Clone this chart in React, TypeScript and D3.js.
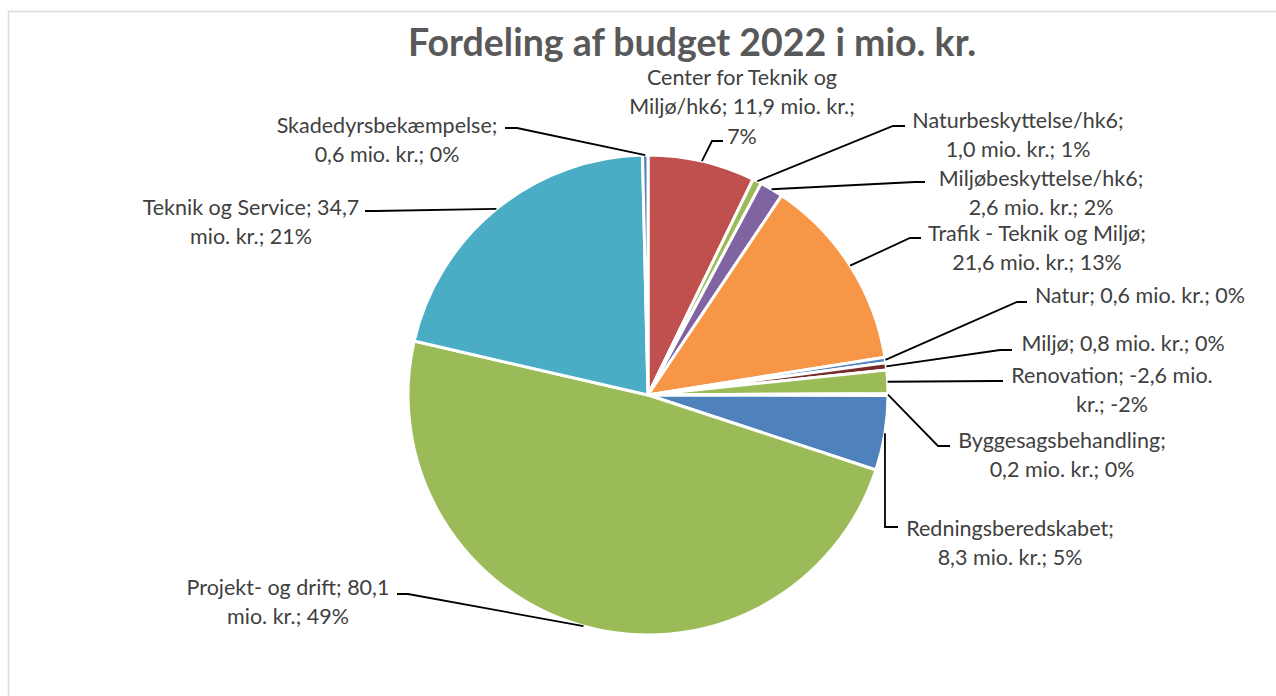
import * as d3 from "d3";
import { useEffect, useRef } from "react";

// budget items, clockwise from 12 o'clock
const names = [
  "Center for Teknik og Miljø/hk6",
  "Naturbeskyttelse/hk6",
  "Miljøbeskyttelse/hk6",
  "Trafik - Teknik og Miljø",
  "Natur",
  "Miljø",
  "Renovation",
  "Byggesagsbehandling",
  "Redningsberedskabet",
  "Projekt- og drift",
  "Teknik og Service",
  "Skadedyrsbekæmpelse",
];
const amounts = [11.9, 1.0, 2.6, 21.6, 0.6, 0.8, -2.6, 0.2, 8.3, 80.1, 34.7, 0.6];
const percents = ["7%", "1%", "2%", "13%", "0%", "0%", "-2%", "0%", "5%", "49%", "21%", "0%"];

// how Excel wrapped each data label
const labelLines = [
  ["Center for Teknik og", "Miljø/hk6; 11,9 mio. kr.;", "7%"],
  ["Naturbeskyttelse/hk6;", "1,0 mio. kr.; 1%"],
  ["Miljøbeskyttelse/hk6;", "2,6 mio. kr.; 2%"],
  ["Trafik - Teknik og Miljø;", "21,6 mio. kr.; 13%"],
  ["Natur; 0,6 mio. kr.; 0%"],
  ["Miljø; 0,8 mio. kr.; 0%"],
  ["Renovation; -2,6 mio.", "kr.; -2%"],
  ["Byggesagsbehandling;", "0,2 mio. kr.; 0%"],
  ["Redningsberedskabet;", "8,3 mio. kr.; 5%"],
  ["Projekt- og drift; 80,1", "mio. kr.; 49%"],
  ["Teknik og Service; 34,7", "mio. kr.; 21%"],
  ["Skadedyrsbekæmpelse;", "0,6 mio. kr.; 0%"],
];

const colors = [
  "#C0504D", "#9BBB59", "#8064A2", "#F79646", "#4F81BD", "#772C2A",
  "#9BBB59", "#8064A2", "#4F81BD", "#9BBB59", "#4BACC6", "#4F81BD",
];

// label placement: text centre x, first line centre y, leader elbow and end
const labelLayout = [
  { cx: 742, cy: 77, elbow: [712, 141], end: [723, 141] },
  { cx: 1018, cy: 120, elbow: [893, 126], end: [905, 126] },
  { cx: 1041, cy: 178, elbow: [915, 182], end: [925, 182] },
  { cx: 1037, cy: 233, elbow: [910, 238], end: [921, 238] },
  { cx: 1140, cy: 295, elbow: [1017, 302], end: [1027, 302] },
  { cx: 1123, cy: 343, elbow: [1000, 350], end: [1012, 350] },
  { cx: 1112, cy: 375, elbow: [995, 381], end: [1003, 381] },
  { cx: 1062, cy: 440, elbow: [938, 446], end: [950, 446] },
  { cx: 1010, cy: 528, elbow: [885, 527], end: [898, 527] },
  { cx: 288, cy: 587, elbow: [408, 594], end: [397, 594] },
  { cx: 251, cy: 207, elbow: [375, 211], end: [365, 211] },
  { cx: 387, cy: 125, elbow: [517, 128], end: [505, 128] },
];

const W = 1276;
const H = 696;
const FONT = "Lato, 'Noto Sans', sans-serif";

export default function App() {
  const svgRef = useRef<SVGSVGElement | null>(null);

  useEffect(() => {
    if (!svgRef.current) return;
    const svg = d3.select(svgRef.current);
    svg.selectAll("*").remove();

    const cx = 648;
    const cy = 395;
    const radius = 240;

    svg
      .append("rect")
      .attr("x", 8.5)
      .attr("y", 11.5)
      .attr("width", W + 20)
      .attr("height", H + 20)
      .attr("fill", "#fff")
      .attr("stroke", "#D9D9D9")
      .attr("stroke-width", 1.5);

    svg
      .append("text")
      .attr("x", 692)
      .attr("y", 56)
      .attr("text-anchor", "middle")
      .attr("font-family", FONT)
      .attr("font-weight", 700)
      .attr("font-size", 37.5)
      .attr("fill", "#595959")
      .text("Fordeling af budget 2022 i mio. kr.");

    const data = names.map((name, i) => ({ name, value: amounts[i], i }));

    const pie = d3
      .pie<{ name: string; value: number; i: number }>()
      .sort(null)
      .value((d) => Math.abs(d.value));
    const arcs = pie(data);

    const arc = d3
      .arc<d3.PieArcDatum<{ name: string; value: number; i: number }>>()
      .innerRadius(0)
      .outerRadius(radius);

    const g = svg.append("g").attr("transform", `translate(${cx},${cy})`);
    g.selectAll("path")
      .data(arcs)
      .enter()
      .append("path")
      .attr("d", arc)
      .attr("fill", (d) => colors[d.data.i])
      .attr("stroke", "#fff")
      .attr("stroke-width", 3)
      .attr("stroke-linejoin", "round");

    // leader lines
    arcs.forEach((a) => {
      const mid = (a.startAngle + a.endAngle) / 2;
      const sx = cx + radius * Math.sin(mid);
      const sy = cy - radius * Math.cos(mid);
      const lay = labelLayout[a.data.i];
      const line = d3.line()([
        [sx, sy],
        lay.elbow as [number, number],
        lay.end as [number, number],
      ]);
      svg
        .append("path")
        .attr("d", line)
        .attr("fill", "none")
        .attr("stroke", "#000")
        .attr("stroke-width", 1.8);
    });

    // data labels
    labelLayout.forEach((lay, i) => {
      const t = svg
        .append("text")
        .attr("text-anchor", "middle")
        .attr("font-family", FONT)
        .attr("font-size", 21.5)
        .attr("fill", "#404040");
      labelLines[i].forEach((ln, k) => {
        t.append("tspan")
          .attr("x", lay.cx)
          .attr("y", lay.cy + k * 29.5 + 7.5)
          .text(ln);
      });
    });
  }, []);

  return (
    <div style={{ position: "absolute", left: 0, top: 0, width: W, height: H }}>
      <svg ref={svgRef} width={W} height={H} style={{ display: "block" }} />
    </div>
  );
}
